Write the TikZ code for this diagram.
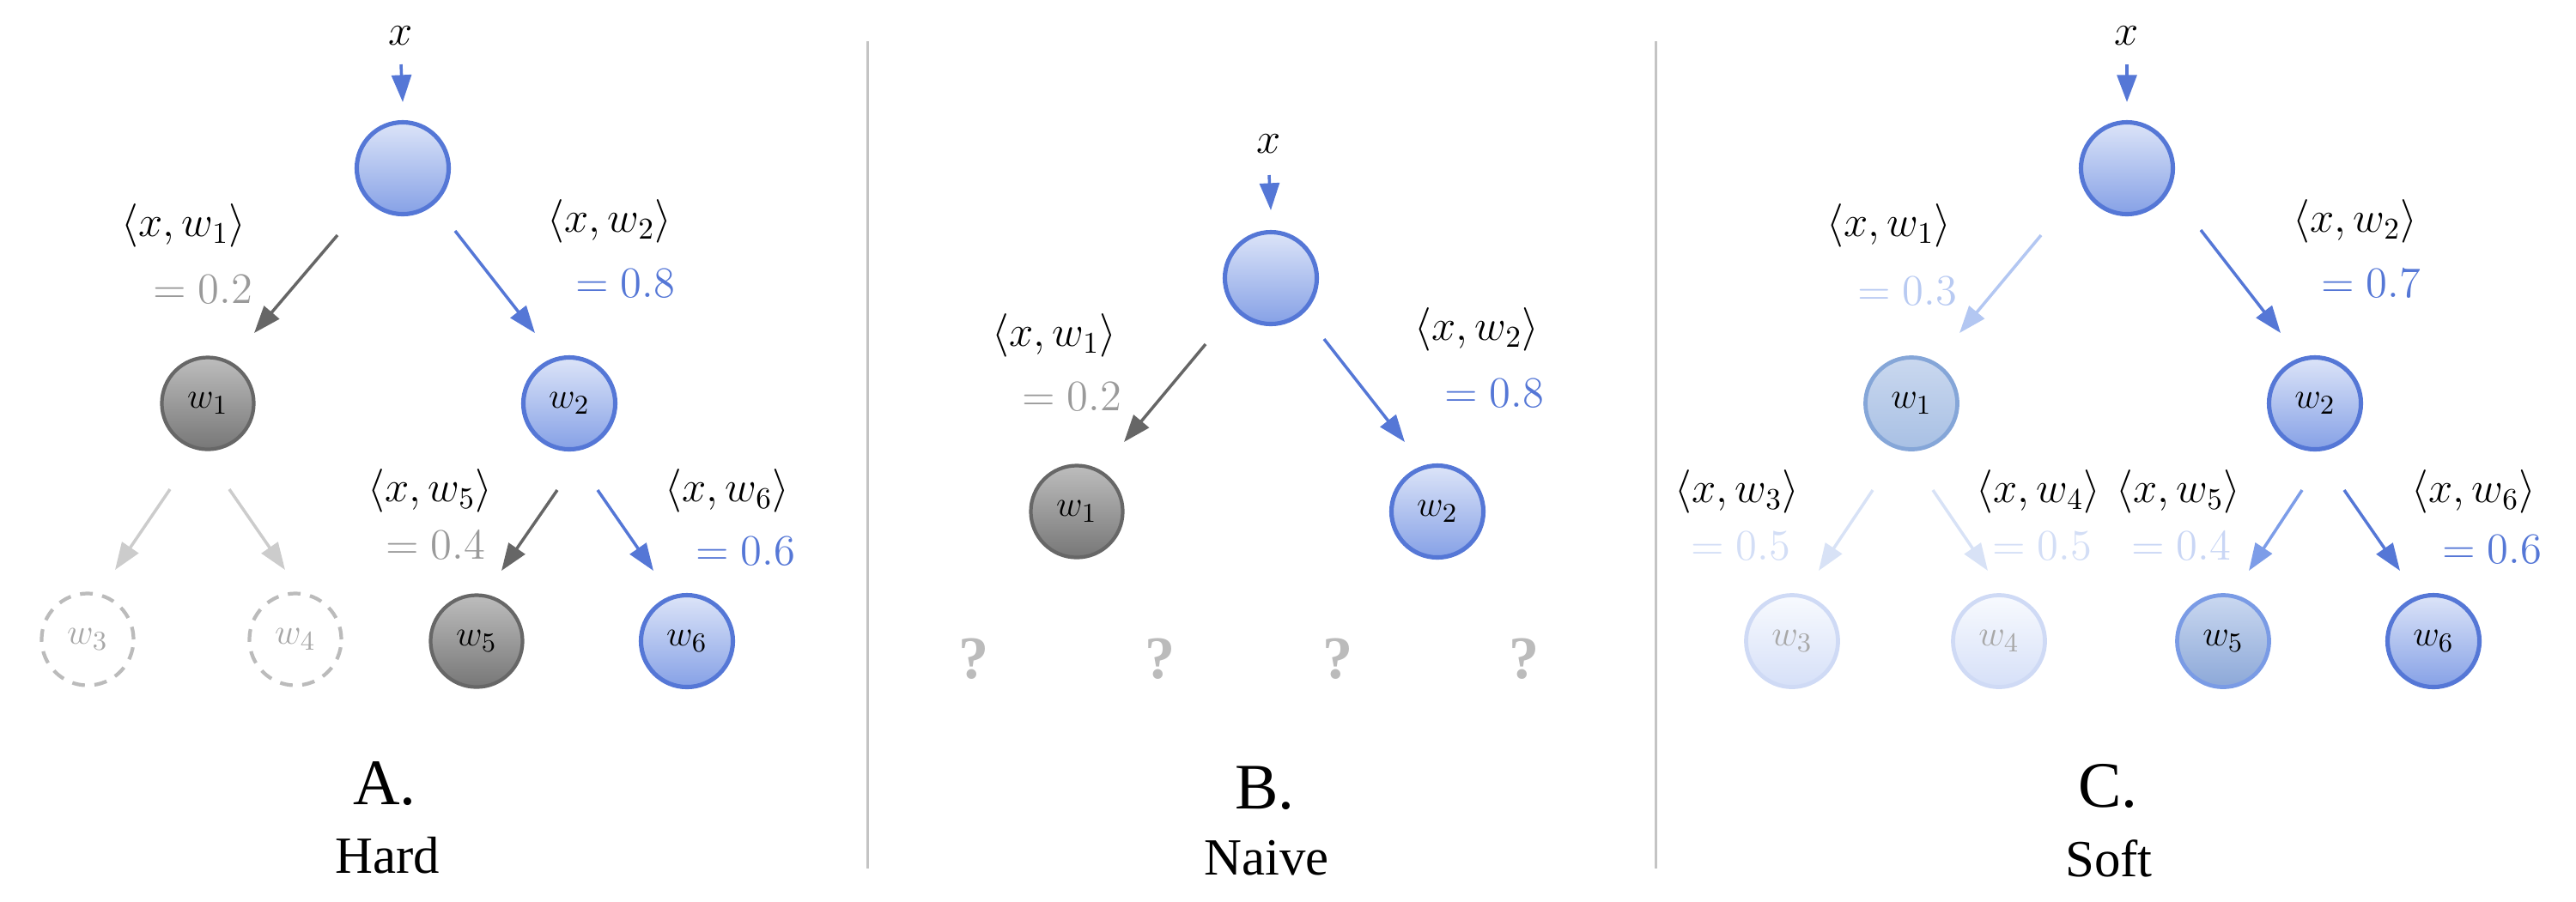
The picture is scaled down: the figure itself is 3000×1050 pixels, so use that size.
\documentclass[tikz,border=0pt]{standalone}
\usepackage{fontspec}
\newfontfamily\capfont{Liberation Serif}
\usetikzlibrary{arrows.meta,calc}
\definecolor{blueS}{HTML}{5577D6}
\definecolor{blueTop}{HTML}{DCE4F8}
\definecolor{blueBot}{HTML}{86A1E6}
\definecolor{grayS}{HTML}{676767}
\definecolor{grayTop}{HTML}{BDBDBD}
\definecolor{grayBot}{HTML}{777777}
\definecolor{grayArr}{HTML}{666666}
\definecolor{lgArr}{HTML}{CCCCCC}
\definecolor{dashC}{HTML}{BBBBBB}
\definecolor{dashT}{HTML}{A8A8A8}
\definecolor{valGray}{HTML}{9A9A9A}
\definecolor{sepC}{HTML}{C4C4C4}
\definecolor{qC}{HTML}{BBBBBB}
\definecolor{cOneS}{HTML}{85A6D8}
\definecolor{cOneTop}{HTML}{CAD8EF}
\definecolor{cOneBot}{HTML}{A8C0E4}
\definecolor{cFaintS}{HTML}{CFDAF5}
\definecolor{cFaintTop}{HTML}{F8FAFE}
\definecolor{cFaintBot}{HTML}{D6E0F8}
\definecolor{cFiveS}{HTML}{7A9BE5}
\definecolor{cFiveTop}{HTML}{CAD8F0}
\definecolor{cFiveBot}{HTML}{8CA8D8}
\definecolor{cArrOne}{HTML}{B3C7F2}
\definecolor{cArrFaint}{HTML}{D8E2F6}
\definecolor{cArrFive}{HTML}{7D9DE8}
\definecolor{cValOne}{HTML}{B8CAF2}
\definecolor{cValFaint}{HTML}{D3DEF6}
\definecolor{cValFive}{HTML}{C9D6F5}
\begin{document}
\begin{tikzpicture}[x=0.01cm,y=-0.01cm,
  nd/.style={circle, minimum size=1.07cm, inner sep=0pt, font=\fontsize{12.5}{14}\selectfont},
  bnode/.style={nd, draw=blueS, line width=1.45pt, top color=blueTop, bottom color=blueBot},
  gnode/.style={nd, draw=grayS, line width=1.2pt, top color=grayTop, bottom color=grayBot},
  dnode/.style={nd, draw=dashC, line width=1.2pt, dash pattern=on 4.2pt off 3.2pt, text=dashT},
  c1node/.style={nd, draw=cOneS, line width=1.35pt, top color=cOneTop, bottom color=cOneBot},
  cfnode/.style={nd, draw=cFaintS, line width=1.35pt, top color=cFaintTop, bottom color=cFaintBot, text=dashT},
  c5node/.style={nd, draw=cFiveS, line width=1.35pt, top color=cFiveTop, bottom color=cFiveBot},
  arr/.style={line width=1.0pt, -{Triangle[length=9pt,width=6.5pt]}},
  lbl/.style={inner sep=0pt, font=\fontsize{13.7}{16}\selectfont},
  xlbl/.style={inner sep=0pt, font=\fontsize{14}{16}\selectfont},
  qm/.style={inner sep=0pt, text=qC, font=\capfont\bfseries\fontsize{20}{22}\selectfont},
  capA/.style={inner sep=0pt, font=\capfont\fontsize{21.5}{24}\selectfont},
  capB/.style={inner sep=0pt, font=\capfont\fontsize{17.3}{20}\selectfont}
]
\useasboundingbox (0,0) rectangle (3000,1050);
% separators
\draw[sepC, line width=0.85pt] (1010,48) -- (1010,1012);
\draw[sepC, line width=0.85pt] (1928,48) -- (1928,1012);

% ================= Panel A =================
\node[xlbl] (xA) at (467,42) {$x$};
\node[bnode] (rA) at (469,196) {};
\node[gnode] (a1) at (242,470) {$w_1$};
\node[bnode] (a2) at (663,470) {$w_2$};
\node[dnode] (a3) at (102,745) {$w_3$};
\node[dnode] (a4) at (344,745) {$w_4$};
\node[gnode] (a5) at (555,747) {$w_5$};
\node[bnode] (a6) at (800,747) {$w_6$};
\draw[arr, blueS] ($(xA)+(0,33)$) -- ($(rA)+(0,-77)$);
\draw[arr, grayArr] ($(rA)+(-76,78)$) -- ($(a1)+(54,-82)$);
\draw[arr, blueS] ($(rA)+(61,73)$) -- ($(a2)+(-40,-82)$);
\draw[arr, lgArr] ($(a1)+(-44,100)$) -- ($(a3)+(32,-81)$);
\draw[arr, lgArr] ($(a1)+(25,100)$) -- ($(a4)+(-12,-81)$);
\draw[arr, grayArr] ($(a2)+(-14,101)$) -- ($(a5)+(29,-82)$);
\draw[arr, blueS] ($(a2)+(33,101)$) -- ($(a6)+(-39,-82)$);
\node[lbl] (la1) at (214,263) {$\langle x, w_1\rangle$};
\node[lbl, text=valGray] (va1) at (236,337) {$= 0.2$};
\node[lbl] (la2) at (710,258) {$\langle x, w_2\rangle$};
\node[lbl, text=blueS] (va2) at (728,330) {$= 0.8$};
\node[lbl] (la5) at (501,572) {$\langle x, w_5\rangle$};
\node[lbl, text=valGray] (va5) at (507,635) {$= 0.4$};
\node[lbl] (la6) at (847,572) {$\langle x, w_6\rangle$};
\node[lbl, text=blueS] (va6) at (868,642) {$= 0.6$};
\node[capA] (capa) at (448,913) {A.};
\node[capB] (capa2) at (451,997) {Hard};

% ================= Panel B =================
\node[xlbl] (xB) at (1478,168) {$x$};
\node[bnode] (rB) at (1480,324) {};
\node[gnode] (b1) at (1254,596) {$w_1$};
\node[bnode] (b2) at (1674,596) {$w_2$};
\draw[arr, blueS] ($(xB)+(0,36)$) -- ($(rB)+(0,-79)$);
\draw[arr, grayArr] ($(rB)+(-76,77)$) -- ($(b1)+(55,-81)$);
\draw[arr, blueS] ($(rB)+(62,71)$) -- ($(b2)+(-38,-81)$);
\node[lbl] (lb1) at (1228,391) {$\langle x, w_1\rangle$};
\node[lbl, text=valGray] (vb1) at (1248,462) {$= 0.2$};
\node[lbl] (lb2) at (1720,384) {$\langle x, w_2\rangle$};
\node[lbl, text=blueS] (vb2) at (1740,458) {$= 0.8$};
\node[qm] (q1) at (1134,768) {?};
\node[qm] (q2) at (1351,768) {?};
\node[qm] (q3) at (1558,768) {?};
\node[qm] (q4) at (1775,768) {?};
\node[capA] (capb) at (1473,918) {B.};
\node[capB] (capb2) at (1475,1000) {Naive};

% ================= Panel C =================
\node[xlbl] (xC) at (2477,42) {$x$};
\node[bnode] (rC) at (2477,196) {};
\node[c1node] (c1) at (2226,470) {$w_1$};
\node[bnode] (c2) at (2696,470) {$w_2$};
\node[cfnode] (c3) at (2087,747) {$w_3$};
\node[cfnode] (c4) at (2328,747) {$w_4$};
\node[c5node] (c5) at (2589,747) {$w_5$};
\node[bnode] (c6) at (2834,747) {$w_6$};
\draw[arr, blueS] ($(xC)+(0,33)$) -- ($(rC)+(0,-77)$);
\draw[arr, cArrOne] ($(rC)+(-100,78)$) -- ($(c1)+(56,-82)$);
\draw[arr, blueS] ($(rC)+(86,72)$) -- ($(c2)+(-40,-82)$);
\draw[arr, cArrFaint] ($(c1)+(-45,101)$) -- ($(c3)+(31,-82)$);
\draw[arr, cArrFaint] ($(c1)+(25,101)$) -- ($(c4)+(-13,-82)$);
\draw[arr, cArrFive] ($(c2)+(-15,101)$) -- ($(c5)+(30,-82)$);
\draw[arr, blueS] ($(c2)+(34,101)$) -- ($(c6)+(-39,-82)$);
\node[lbl] (lc1) at (2200,263) {$\langle x, w_1\rangle$};
\node[lbl, text=cValOne] (vc1) at (2221,339) {$= 0.3$};
\node[lbl] (lc2) at (2743,258) {$\langle x, w_2\rangle$};
\node[lbl, text=blueS] (vc2) at (2761,330) {$= 0.7$};
\node[lbl] (lc3) at (2023,573) {$\langle x, w_3\rangle$};
\node[lbl, text=cValFaint] (vc3) at (2027,636) {$= 0.5$};
\node[lbl] (lc4) at (2374,573) {$\langle x, w_4\rangle$};
\node[lbl, text=cValFaint] (vc4) at (2378,636) {$= 0.5$};
\node[lbl] (lc5) at (2537,573) {$\langle x, w_5\rangle$};
\node[lbl, text=cValFive] (vc5) at (2540,636) {$= 0.4$};
\node[lbl] (lc6) at (2881,573) {$\langle x, w_6\rangle$};
\node[lbl, text=blueS] (vc6) at (2902,640) {$= 0.6$};
\node[capA] (capc) at (2455,916) {C.};
\node[capB] (capc2) at (2456,1000) {Soft};
\end{tikzpicture}
\end{document}
